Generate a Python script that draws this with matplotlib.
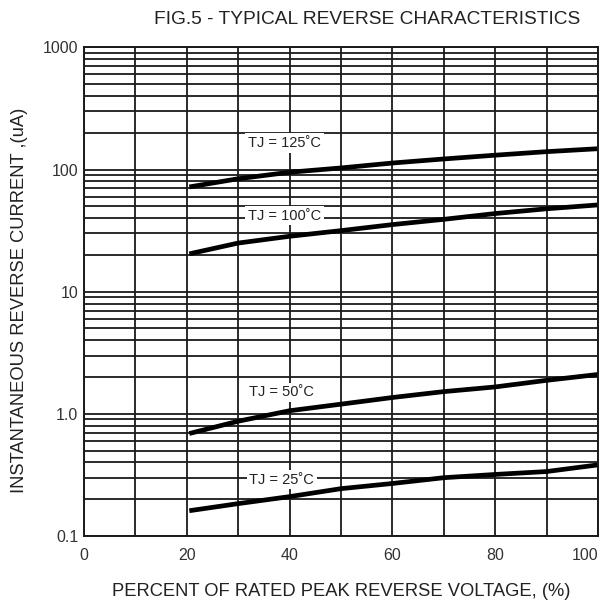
import matplotlib
matplotlib.use("Agg")
import matplotlib.pyplot as plt
import numpy as np

plt.rcParams['font.family'] = ['Liberation Sans', 'DejaVu Sans']

# percent of rated peak reverse voltage
volts = [20.5, 30, 40, 50, 60, 70, 80, 90, 100]

# reverse current (uA) for each junction temp
i_125 = [72, 84, 95, 103, 113, 122, 131, 140, 148]
i_100 = [20.4, 25.0, 28.4, 31.6, 35.4, 39.1, 43.6, 47.7, 51.3]
i_50 = [0.69, 0.87, 1.06, 1.20, 1.36, 1.52, 1.66, 1.88, 2.1]
i_25 = [0.161, 0.184, 0.21, 0.244, 0.269, 0.30, 0.319, 0.337, 0.382]

curve_labels = ["TJ = 125˚C", "TJ = 100˚C", "TJ = 50˚C", "TJ = 25˚C"]
label_x = [39, 39, 38.5, 38.5]
label_y = [165, 42, 1.5, 0.29]

x_ticks = [0, 20, 40, 60, 80, 100]
y_ticks = [0.1, 1, 10, 100, 1000]
y_ticklabels = ["0.1", "1.0", "10", "100", "1000"]

fig = plt.figure(figsize=(6.04, 6.04), dpi=100)
ax = fig.add_axes([0.139, 0.1126, 0.851, 0.809])

ax.set_yscale('log')
ax.set_xlim(0, 100)
ax.set_ylim(0.1, 1000)

gcol = '#1a1a1a'
# grid: every 10 % and every 1..9 in each decade
ax.set_xticks(np.arange(0, 101, 10), minor=True)
ax.set_xticks(x_ticks)
ax.set_xticklabels([str(t) for t in x_ticks])
ax.set_yticks(y_ticks)
ax.set_yticklabels(y_ticklabels)
ax.yaxis.set_minor_locator(matplotlib.ticker.LogLocator(base=10, subs=np.arange(2, 10)))
ax.yaxis.set_minor_formatter(matplotlib.ticker.NullFormatter())
ax.grid(True, which='both', color=gcol, lw=1.3)
ax.set_axisbelow(True)
ax.tick_params(which='both', length=0, labelsize=11.5, colors='#333333')
ax.tick_params(axis='x', pad=9)
ax.tick_params(axis='y', pad=4)
# last x label would hang off the edge
ax.get_xticklabels()[-1].set_ha('right')
for s in ax.spines.values():
    s.set_color(gcol)
    s.set_linewidth(1.4)

for cur in [i_125, i_100, i_50, i_25]:
    ax.plot(volts, cur, color='black', lw=3.4, solid_capstyle='butt')

for txt, lx, ly in zip(curve_labels, label_x, label_y):
    ax.text(lx, ly, txt, ha='center', va='center', fontsize=10.5, color='#222222',
            bbox=dict(facecolor='white', edgecolor='none', pad=2))

fig.text(0.607, 0.968, "FIG.5 - TYPICAL REVERSE CHARACTERISTICS", ha='center', va='center',
         fontsize=13.8, color='#222222')
ax.set_xlabel("PERCENT OF RATED PEAK REVERSE VOLTAGE, (%)", fontsize=13.2, color='#222222', labelpad=14)
ax.set_ylabel("INSTANTANEOUS REVERSE CURRENT ,(uA)", fontsize=13.2, color='#222222')
ax.yaxis.set_label_coords(-0.108, 0.483)

fig.savefig("out.png", dpi=100)
